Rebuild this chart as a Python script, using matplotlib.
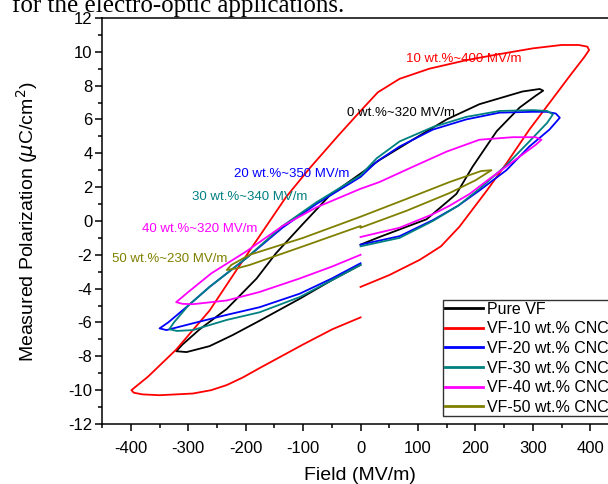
import matplotlib
matplotlib.use("Agg")
import matplotlib.pyplot as plt
from matplotlib.ticker import MultipleLocator

plt.rcParams['font.family'] = ['Liberation Sans', 'DejaVu Sans']
plt.rcParams['axes.unicode_minus'] = False

# P-E loops: each starts at E=0, runs to +Emax, back to -Emax and returns to E=0
field_pure = [0, 33, 115, 167, 195, 237, 277, 305, 318, 312, 282, 207, 150, 91, 33, 0,
              -54, -101, -147, -181, -233, -280, -310, -321, -303, -263, -223, -176, -106, -50, 0]
pol_pure = [-1.4, -0.95, 0.1, 1.6, 3.2, 5.3, 6.7, 7.4, 7.7, 7.8, 7.65, 6.9, 6.0, 4.8, 3.6, 2.8,
            1.5, -0.2, -1.9, -3.4, -5.2, -6.4, -7.3, -7.7, -7.75, -7.4, -6.75, -5.9, -4.6, -3.5, -2.6]

field_10 = [0, 50, 103, 140, 172, 220, 254, 294, 334, 365, 390, 398, 395, 380, 350, 300, 240,
            184, 120, 68, 30, 0, -40, -89, -130, -176, -216, -263, -321, -370, -399, -395, -380,
            -350, -292, -260, -233, -205, -176, -100, -49, 0]
pol_10 = [-3.9, -3.2, -2.3, -1.5, -0.35, 1.8, 3.4, 5.4, 7.2, 8.6, 9.7, 10.1, 10.3, 10.4, 10.4,
          10.2, 9.85, 9.5, 9.0, 8.4, 7.6, 6.5, 5.0, 3.1, 1.4, -0.9, -2.9, -5.3, -7.6, -9.2, -10.0,
          -10.15, -10.25, -10.3, -10.2, -10.0, -9.7, -9.25, -8.7, -7.3, -6.4, -5.7]

field_20 = [0, 68, 126, 170, 207, 254, 294, 329, 347, 340, 324, 300, 242, 184, 126, 68, 28, 0,
            -77, -136, -199, -263, -300, -335, -350, -338, -292, -233, -176, -106, -50, 0]
pol_20 = [-1.4, -0.9, 0.05, 0.9, 1.8, 3.0, 4.4, 5.4, 6.1, 6.35, 6.45, 6.45, 6.4, 6.0, 5.4, 4.4,
          3.5, 2.6, 1.0, -0.4, -2.2, -3.9, -5.0, -6.0, -6.35, -6.45, -6.05, -5.55, -5.1, -4.3,
          -3.4, -2.5]

field_30 = [0, 68, 126, 170, 207, 254, 294, 325, 335, 325, 300, 242, 184, 126, 68, 28, 0,
            -77, -136, -199, -263, -300, -325, -333, -320, -292, -233, -176, -106, -50, 0]
pol_30 = [-1.5, -1.0, 0.0, 0.9, 1.9, 3.3, 4.7, 5.8, 6.3, 6.5, 6.55, 6.5, 6.15, 5.55, 4.7, 3.7,
          2.7, 1.1, -0.3, -2.2, -3.9, -5.0, -6.0, -6.4, -6.5, -6.45, -5.85, -5.4, -4.5, -3.5, -2.6]

field_40 = [0, 68, 126, 155, 190, 225, 277, 305, 315, 305, 265, 207, 150, 91, 33, 0,
            -77, -136, -199, -260, -300, -321, -310, -292, -233, -176, -106, -50, 0]
pol_40 = [-0.95, -0.4, 0.4, 0.9, 1.6, 2.5, 3.8, 4.5, 4.8, 4.95, 4.95, 4.8, 4.1, 3.2, 2.3, 1.9,
          0.8, -0.3, -1.8, -3.1, -4.2, -4.8, -4.9, -4.92, -4.7, -4.2, -3.4, -2.7, -2.0]

field_50 = [0, 80, 155, 200, 228, 210, 155, 80, 0, -100, -193, -225, -233, -215, -193, -100, 0]
pol_50 = [-0.4, 0.6, 1.65, 2.4, 3.0, 2.95, 2.3, 1.3, 0.25, -1.0, -2.0, -2.6, -2.9, -2.8, -2.6,
          -1.5, -0.3]

series = [
    ("Pure VF", field_pure, pol_pure, "#000000"),
    ("VF-10 wt.% CNC", field_10, pol_10, "#ff0000"),
    ("VF-20 wt.% CNC", field_20, pol_20, "#0000ff"),
    ("VF-30 wt.% CNC", field_30, pol_30, "#008080"),
    ("VF-40 wt.% CNC", field_40, pol_40, "#ff00ff"),
    ("VF-50 wt.% CNC", field_50, pol_50, "#808000"),
]

# breakdown field notes written next to each loop
notes = ["0 wt.%~320 MV/m", "10 wt.%~400 MV/m", "20 wt.%~350 MV/m",
         "30 wt.%~340 MV/m", "40 wt.%~320 MV/m", "50 wt.%~230 MV/m"]
note_x = [-23, 80, -220, -293, -380, -432]
note_y = [6.4, 9.57, 2.78, 1.42, -0.47, -2.25]

fig = plt.figure(figsize=(6.08, 4.84), dpi=100)
ax = fig.add_axes([0.168, 0.124, 0.850, 0.839])

for label, xs, ys, c in series:
    ax.plot(xs, ys, color=c, lw=1.3, label=label, solid_joinstyle='round')

for (label, xs, ys, c), txt, tx, ty in zip(series, notes, note_x, note_y):
    ax.text(tx, ty, txt, color=c, fontsize=9.5, ha='left', va='center')

ax.set_xlim(-450, 450)
ax.set_ylim(-12, 12)
ax.xaxis.set_major_locator(MultipleLocator(100))
ax.xaxis.set_minor_locator(MultipleLocator(50))
ax.yaxis.set_major_locator(MultipleLocator(2))
ax.yaxis.set_minor_locator(MultipleLocator(1))
ax.tick_params(which='both', direction='out', top=False, right=False, labelsize=12, width=1.1)
ax.tick_params(which='major', length=5)
ax.tick_params(which='minor', length=3)
ax.tick_params(axis='x', pad=7)
ax.tick_params(axis='y', pad=2)
for s in ax.spines.values():
    s.set_linewidth(1.1)

fig.text(360 / 608, 1 - 476 / 484, "Field (MV/m)", fontsize=14, ha='center', va='center')
fig.text(27 / 608, 1 - 222 / 484, r"Measured Polarization ($\mu$C/cm$^2$)", fontsize=14,
         ha='center', va='center', rotation=90)

leg = ax.legend(loc='upper left', bbox_to_anchor=(0.66, 0.305), borderaxespad=0,
                fontsize=11.5, handlelength=2.4, handletextpad=0.25, borderpad=0.1,
                labelspacing=0.29, fancybox=False, frameon=True)
leg.get_frame().set_edgecolor('black')
leg.get_frame().set_linewidth(1.0)
for h in leg.get_lines():
    h.set_linewidth(2.0)

# running text from the page above the figure
fig.text(12 / 608, 1 - 12 / 484, "for the electro-optic applications.", fontsize=18,
         family=['Liberation Serif', 'DejaVu Serif'], ha='left', va='baseline')

fig.savefig("out.png", dpi=100)
